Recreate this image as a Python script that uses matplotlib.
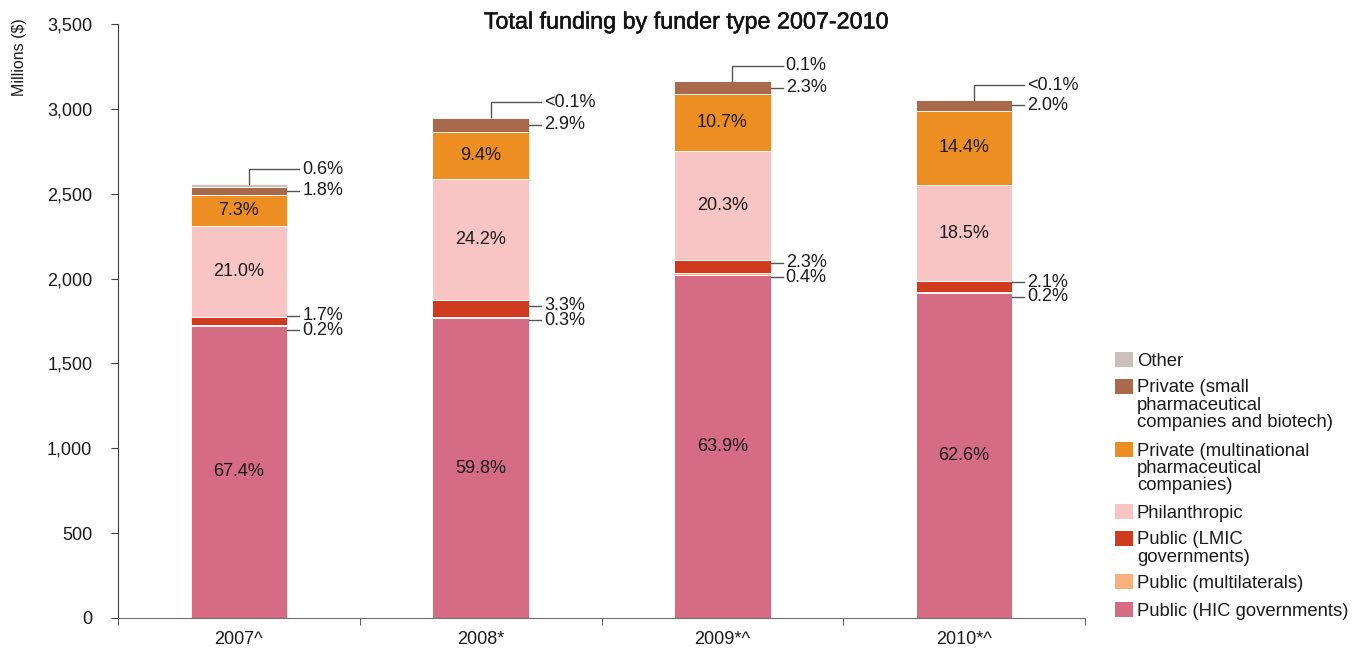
import matplotlib
matplotlib.use("Agg")
import matplotlib.pyplot as plt
import matplotlib.patheffects as pe
from matplotlib.patches import Rectangle

plt.rcParams['font.family'] = ['Liberation Sans', 'DejaVu Sans']

# Data (millions $)
years = ["2007^", "2008*", "2009*^", "2010*^"]
hic_gov = [1723, 1765, 2022, 1914]
multilaterals = [5, 9, 13, 6]
lmic_gov = [43, 97, 73, 64]
philanthropic = [537, 714, 642, 566]
multinational_pharma = [187, 277, 339, 440]
small_pharma = [46, 86, 73, 61]
other = [15, 2, 3, 1]

hic_lbl = ["67.4%", "59.8%", "63.9%", "62.6%"]
multi_lbl = ["0.2%", "0.3%", "0.4%", "0.2%"]
lmic_lbl = ["1.7%", "3.3%", "2.3%", "2.1%"]
phil_lbl = ["21.0%", "24.2%", "20.3%", "18.5%"]
mnc_lbl = ["7.3%", "9.4%", "10.7%", "14.4%"]
small_lbl = ["1.8%", "2.9%", "2.3%", "2.0%"]
other_lbl = ["0.6%", "<0.1%", "0.1%", "<0.1%"]

yticks = [0, 500, 1000, 1500, 2000, 2500, 3000, 3500]
ytick_labels = ["0", "500", "1,000", "1,500", "2,000", "2,500", "3,000", "3,500"]

series = [
    ("Public (HIC governments)", hic_gov, "#D56B84"),
    ("Public (multilaterals)", multilaterals, "#F9B07A"),
    ("Public (LMIC\ngovernments)", lmic_gov, "#D03B1F"),
    ("Philanthropic", philanthropic, "#F9C4C4"),
    ("Private (multinational\npharmaceutical\ncompanies)", multinational_pharma, "#EC8E22"),
    ("Private (small\npharmaceutical\ncompanies and biotech)", small_pharma, "#A9694B"),
    ("Other", other, "#CDBFBA"),
]

W, H = 1355, 652
fig = plt.figure(figsize=(W / 100, H / 100), dpi=100)
ax = fig.add_axes([118 / W, 1 - 618 / H, 967 / W, 594 / H])

x = [i + 0.5 for i in range(len(years))]
bw = 0.4
px_x = 4 / 967.0      # data units per pixel (x)
px_y = 3500 / 594.0   # data units per pixel (y)

bottoms = [0] * len(years)
seg = {}
for name, vals, col in series:
    ax.bar(x, vals, bw, bottom=bottoms, color=col, edgecolor="white", linewidth=0.6)
    seg[name] = [(b, b + v) for b, v in zip(bottoms, vals)]
    bottoms = [b + v for b, v in zip(bottoms, vals)]

fs = 13
tc = "#1a1a1a"
line_c = "#555555"
keys = [s[0] for s in series]

for i in range(len(years)):
    # inside labels
    for k, lbls in ((keys[0], hic_lbl), (keys[3], phil_lbl), (keys[4], mnc_lbl)):
        lo, hi = seg[k][i]
        ax.text(x[i], (lo + hi) / 2, lbls[i], ha="center", va="center", fontsize=fs, color=tc)

    right = x[i] + bw / 2
    x_end = right + 12 * px_x
    x_txt = right + 15 * px_x

    def side_label(y_line, txt):
        ax.plot([right, x_end], [y_line, y_line], color=line_c, lw=1, clip_on=False)
        ax.text(x_txt, y_line, txt, ha="left", va="center", fontsize=fs, color=tc)

    # small pharma
    lo, hi = seg[keys[5]][i]
    side_label((lo + hi) / 2, small_lbl[i])

    # LMIC and multilaterals, spread apart
    lo, hi = seg[keys[2]][i]
    m_lmic = (lo + hi) / 2
    lo, hi = seg[keys[1]][i]
    m_mul = (lo + hi) / 2
    avg = (m_lmic + m_mul) / 2
    gap = 14.5 * px_y
    side_label(avg + gap / 2, lmic_lbl[i])
    side_label(avg - gap / 2, multi_lbl[i])

    # other bracket
    top = bottoms[i]
    xv = x[i] + 10 * px_x
    yh = top + 15 * px_y
    ax.plot([xv, xv, x_end], [top, yh, yh], color=line_c, lw=1, clip_on=False)
    ax.text(x_txt, yh, other_lbl[i], ha="left", va="center", fontsize=fs, color=tc)

ax.set_xlim(0, 4)
ax.set_ylim(0, 3500)
ax.set_yticks(yticks)
ax.set_yticklabels(ytick_labels, fontsize=fs, color=tc)
ax.set_xticks(x)
ax.set_xticklabels(years, fontsize=fs, color=tc)
ax.set_xticks([0, 1, 2, 3, 4], minor=True)
ax.tick_params(axis="x", which="major", length=0, pad=9)
ax.tick_params(axis="x", which="minor", length=5, direction="out", color="#404040")
ax.tick_params(axis="y", length=5, direction="out", color="#404040", pad=13.5)
for s in ("top", "right"):
    ax.spines[s].set_visible(False)
ax.spines["left"].set_color("#404040")
ax.spines["bottom"].set_color("#707070")

fig.text(687 / W, 1 - 22 / H, "Total funding by funder type 2007-2010", ha="center", va="center",
         fontsize=16.8, color="#111111",
         path_effects=[pe.withStroke(linewidth=0.35, foreground="#111111")])
fig.text(20 / W, 1 - 57 / H, "Millions ($)", rotation=90, ha="center", va="center",
         fontsize=11.5, color=tc)

# legend (drawn by hand so the swatch sits on the first line)
leg_y = [359, 386, 449, 511, 538, 581, 609]
for (name, vals, col), yy in zip(reversed(series), leg_y):
    fig.patches.append(Rectangle((1115 / W, 1 - (yy + 7.5) / H), 18 / W, 15 / H,
                                 transform=fig.transFigure, facecolor=col, edgecolor="none"))
    for j, line in enumerate(name.split("\n")):
        fig.text(1137 / W, 1 - (yy + 17.3 * j) / H, line, ha="left", va="center_baseline",
                 fontsize=13.3, color=tc)

fig.savefig("out.png", dpi=100)
